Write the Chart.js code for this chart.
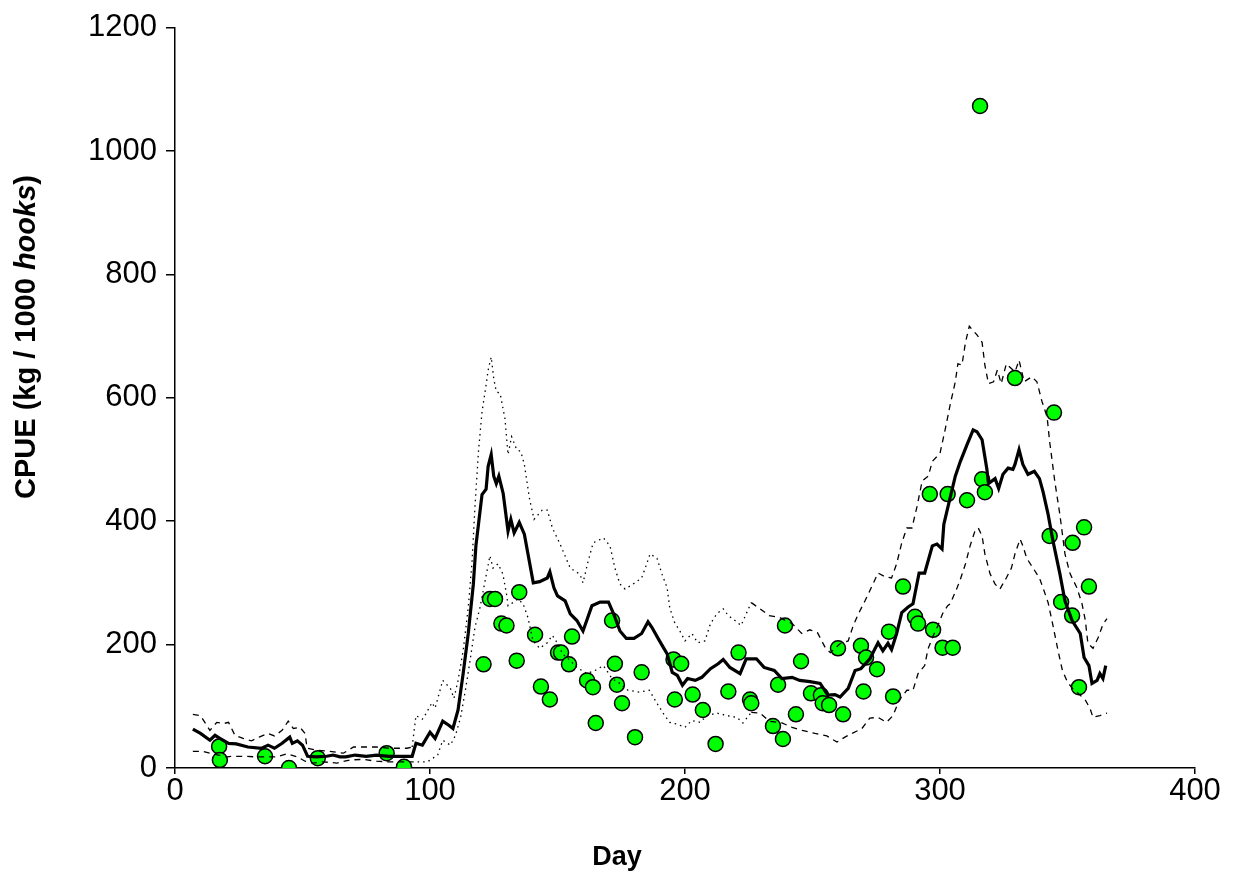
<!DOCTYPE html>
<html>
<head>
<meta charset="utf-8">
<script src="https://cdn.jsdelivr.net/npm/chart.js@4"></script>
<style>
body { margin: 0; background: #fff; }
#wrap { width: 1240px; height: 881px; }
</style>
</head>
<body>
<div id="wrap"><canvas id="myChart"></canvas></div>
<script>
// running mean CPUE
var meanDay = [7, 10, 13.7, 15.7, 17.6, 21, 24, 28.6, 34, 36.5,
    39, 42, 45, 46, 48, 50, 52, 55.5, 59.5, 62,
    64.7, 67, 70.6, 75, 79, 84, 88, 93, 94.5, 97,
    100, 102, 105, 107.5, 109, 111, 113, 115, 117, 118,
    120.4, 122, 122.8, 124, 125, 126, 127, 128.7, 130.6, 131.7,
    133, 135, 137, 140.5, 143, 146, 147, 148.6, 150, 153,
    155, 157.6, 160, 163.5, 166.7, 170, 172, 174.5, 177, 180,
    183, 185.5, 187, 190, 193, 195, 197, 199, 201, 204,
    206.6, 210, 213, 215, 217.6, 221.6, 224, 228, 231, 235,
    238, 242, 245, 249, 253, 256, 258.8, 260.8, 264, 266.7,
    269, 272.5, 275.7, 277.6, 279.6, 281, 283, 285, 287.5, 289.4,
    291.8, 294, 297, 298.8, 300.8, 301.5, 303, 306, 308, 310.6,
    313, 314.5, 316.5, 318.4, 319, 321.6, 323, 324.7, 326.7, 328.6,
    329.4, 331, 332.5, 334.5, 337, 339, 340.4, 342.4, 344.3, 347,
    349, 351.8, 355, 356.5, 358.4, 359.6, 361.6, 362.7, 363.9, 365];
var meanCpue = [63, 56, 45, 53, 48, 40, 39, 34, 32, 37,
    32, 40, 50, 40, 44, 37, 19, 18, 19, 21,
    18, 18, 21, 19, 21, 19, 19, 19, 40, 37,
    58, 48, 76, 69, 64, 94, 153, 218, 298, 360,
    443, 452, 489, 508, 473, 461, 473, 445, 384, 403,
    381, 398, 379, 300, 302, 308, 318, 292, 279, 271,
    250, 239, 222, 263, 269, 269, 250, 222, 210, 210,
    218, 237, 228, 206, 185, 155, 150, 134, 145, 142,
    147, 161, 169, 176, 163, 153, 177, 177, 163, 158,
    145, 147, 142, 140, 137, 118, 119, 115, 129, 158,
    161, 177, 203, 190, 202, 192, 218, 252, 261, 266,
    316, 316, 360, 363, 355, 395, 421, 473, 497, 524,
    548, 545, 532, 484, 461, 469, 453, 476, 486, 484,
    492, 516, 492, 476, 481, 469, 448, 411, 368, 315,
    271, 239, 218, 179, 166, 137, 142, 153, 145, 166];

// upper bound
var upperDay = [7, 10, 13.7, 16.4, 19, 21, 23.5, 26.7, 30, 33,
    36.5, 39, 42, 44.4, 46.4, 49, 51, 51.8, 55.5, 60.8,
    66, 70, 73.7, 79, 84, 91, 93, 94.5, 97, 98,
    100.8, 102, 105, 108, 109.4, 111, 113, 115, 116.5, 117.6,
    119, 120.4, 122, 122.8, 124, 125, 126, 127.5, 129.4, 130.6,
    132, 134, 135.6, 137, 139, 140.8, 144, 146, 148, 151,
    155, 158.8, 160, 162, 164, 168, 170.6, 172.5, 174.5, 176.5,
    179.6, 183, 185, 186.3, 189, 191, 193, 194, 196, 198,
    200, 202.7, 205, 207.8, 210, 212.5, 215, 217, 219.6, 222,
    224, 226, 229.4, 233, 237, 242, 245.8, 249, 252, 255,
    257, 261, 264, 266, 268, 270.6, 273.7, 275.7, 278.4, 281,
    283, 285, 287, 289, 291, 293, 295.4, 297, 300, 302,
    304, 306, 307, 308.6, 310, 311.5, 314.5, 316.5, 317.6, 319,
    321, 322.5, 324, 326, 329.4, 331, 333, 336, 338, 340,
    342, 343, 345, 347, 349, 351, 353.7, 355.7, 357, 358,
    360, 362, 364, 365.5];
var upperCpue = [87, 85, 61, 74, 72, 74, 53, 48, 44, 50,
    56, 52, 61, 76, 64, 66, 56, 32, 29, 27,
    24, 34, 34, 34, 32, 32, 34, 85, 79, 85,
    106, 97, 142, 129, 113, 142, 190, 260, 335, 421,
    513, 577, 621, 645, 666, 631, 610, 607, 566, 508,
    537, 516, 513, 492, 437, 403, 418, 418, 389, 363,
    324, 314, 300, 335, 365, 373, 360, 324, 298, 290,
    298, 308, 331, 347, 340, 314, 292, 260, 235, 222,
    206, 218, 203, 206, 234, 250, 258, 247, 239, 231,
    250, 268, 258, 247, 244, 234, 218, 224, 219, 195,
    187, 202, 206, 231, 250, 271, 298, 316, 310, 308,
    331, 365, 389, 389, 424, 465, 473, 497, 510, 548,
    589, 626, 655, 653, 690, 716, 702, 690, 653, 623,
    626, 645, 623, 655, 642, 661, 626, 634, 626, 594,
    569, 529, 465, 411, 347, 315, 292, 266, 239, 202,
    194, 211, 234, 242];

// lower bound
var lowerDay = [7, 11, 13.7, 17, 20.4, 22.7, 26.7, 32, 37, 40,
    44, 48, 51, 54, 58, 63.5, 68.6, 73.7, 79, 84,
    91, 93, 99, 103, 105, 108, 110, 112, 114, 115.7,
    117.6, 119.6, 121.6, 123.5, 124.7, 126.7, 128.6, 130, 130.6, 132.5,
    134.5, 136.5, 138.4, 140.4, 143, 146, 148, 150, 152, 155,
    157.6, 161.5, 164.7, 168, 171.4, 174.5, 177.6, 182, 186, 189,
    191.4, 194, 197, 200, 202.7, 206, 208.6, 212.5, 216.5, 220.4,
    222.7, 226, 229.4, 233, 238, 242, 246, 251, 255.6, 259.6,
    262.7, 265.5, 269.4, 272.5, 275.7, 279, 281.6, 284, 287, 289.4,
    291.4, 294, 295.3, 297.3, 299.2, 301, 303, 304, 306.7, 308,
    310, 311.8, 313.7, 315, 316.5, 317.6, 319.6, 321.6, 323.5, 326,
    328, 329.4, 331.4, 332.5, 334, 336.5, 339, 340.4, 342.4, 344.3,
    346.3, 348, 350, 352, 355, 357, 358.8, 360, 362.7, 365.5];
var lowerCpue = [27, 27, 24, 21, 18, 19, 19, 18, 18, 18,
    23, 18, 11, 8, 10, 8, 13, 14, 11, 10,
    10, 10, 10, 21, 45, 37, 53, 82, 129, 174,
    227, 260, 303, 344, 324, 331, 314, 282, 263, 268,
    274, 266, 244, 206, 194, 203, 215, 202, 185, 174,
    163, 153, 158, 166, 145, 137, 126, 123, 126, 105,
    89, 74, 71, 66, 77, 74, 85, 89, 85, 82,
    73, 90, 89, 76, 73, 66, 61, 56, 52, 42,
    50, 56, 64, 81, 82, 74, 85, 110, 126, 126,
    153, 166, 193, 214, 231, 250, 263, 266, 292, 306,
    331, 360, 384, 389, 376, 347, 315, 298, 290, 308,
    324, 347, 371, 360, 340, 324, 308, 292, 268, 231,
    190, 158, 139, 129, 118, 110, 97, 82, 85, 89];

// observed catch rates
var catchDay = [17.3, 17.6, 35.3, 44.7, 56, 83, 89.8, 121, 123.5, 125.5,
    128, 130, 134, 135, 141.2, 143.5, 147, 150.2, 151.4, 154.5,
    155.7, 161.6, 163.9, 165, 171.4, 172.5, 173.3, 175.3, 180.4, 183,
    195.5, 196, 198.5, 203, 207, 212, 217, 221, 225.5, 226,
    234.5, 236.5, 238.4, 239.2, 243.5, 245.5, 249.4, 253.3, 254, 256.5,
    260, 262, 269, 271, 270, 275.3, 280, 281.6, 285.5, 290.2,
    291.4, 296, 297.3, 301, 305, 303, 310.6, 316.5, 317.6, 315.7,
    329.4, 344.7, 343, 347.5, 352, 351.8, 356.5, 354.5, 358.4];
var catchCpue = [35, 13, 19, 0, 16, 24, 2, 168, 274, 274,
    234, 231, 174, 285, 216, 132, 111, 187, 187, 168,
    213, 142, 131, 73, 239, 169, 135, 105, 50, 155,
    176, 111, 169, 119, 94, 39, 124, 187, 111, 105,
    68, 135, 47, 231, 87, 173, 121, 118, 105, 102,
    194, 87, 198, 179, 124, 160, 221, 116, 294, 245,
    234, 444, 224, 195, 195, 444, 434, 468, 447, 1073,
    632, 576, 376, 269, 365, 247, 390, 131, 294];

var xTicks = [0, 100, 200, 300, 400];
var yTicks = [0, 200, 400, 600, 800, 1000, 1200];

var fontFamily = '"Liberation Sans", Arial, sans-serif';
Chart.defaults.font.family = fontFamily;
Chart.defaults.color = '#000';

function pts(xs, ys) {
    return xs.map(function (x, i) { return { x: x, y: ys[i] }; });
}

// bounds are dotted in spring, dashed elsewhere
function boundDash(ctx) {
    var x = ctx.p0.parsed.x;
    return (x >= 93 && x < 226) ? [1.5, 4] : [6, 5];
}

var axisTitles = {
    id: 'axisTitles',
    afterDraw: function (chart) {
        var c = chart.ctx;
        c.save();
        c.fillStyle = '#000';
        c.textBaseline = 'middle';
        c.textAlign = 'center';
        c.font = 'bold 27px ' + fontFamily;
        c.fillText('Day', 617, 858);

        var parts = [['bold', 'CPUE (kg / 1000 '], ['italic bold', 'hooks'], ['bold', ')']];
        c.translate(27, 337);
        c.rotate(-Math.PI / 2);
        c.textAlign = 'left';
        var total = 0;
        parts.forEach(function (p) {
            c.font = p[0] + ' 29px ' + fontFamily;
            total += c.measureText(p[1]).width;
        });
        var x = -total / 2;
        parts.forEach(function (p) {
            c.font = p[0] + ' 29px ' + fontFamily;
            c.fillText(p[1], x, 0);
            x += c.measureText(p[1]).width;
        });
        c.restore();
    }
};

function plain(v) { return String(v); }

var ctx = document.getElementById('myChart').getContext('2d');
var myChart = new Chart(ctx, {
    type: 'scatter',
    data: {
        datasets: [{
            label: 'Mean',
            data: pts(meanDay, meanCpue),
            showLine: true,
            borderColor: '#000',
            borderWidth: 3.2,
            pointRadius: 0,
            tension: 0,
            order: 1
        },
        {
            label: 'Upper',
            data: pts(upperDay, upperCpue),
            showLine: true,
            borderColor: '#000',
            borderWidth: 1.3,
            pointRadius: 0,
            segment: { borderDash: boundDash },
            order: 2
        },
        {
            label: 'Lower',
            data: pts(lowerDay, lowerCpue),
            showLine: true,
            borderColor: '#000',
            borderWidth: 1.3,
            pointRadius: 0,
            segment: { borderDash: boundDash },
            order: 3
        },
        {
            label: 'CPUE',
            data: pts(catchDay, catchCpue),
            showLine: false,
            backgroundColor: '#00ff00',
            borderColor: '#000',
            borderWidth: 1.5,
            pointRadius: 7.5,
            order: 4
        }]
    },
    options: {
        responsive: true,
        maintainAspectRatio: false,
        animation: false,
        layout: { padding: { left: 0, top: 24, right: 45, bottom: 0 } },
        plugins: {
            legend: { display: false },
            tooltip: { enabled: false }
        },
        scales: {
            x: {
                type: 'linear',
                min: 0,
                max: 400,
                afterFit: function (s) { s.height = 113; },
                afterBuildTicks: function (s) { s.ticks = xTicks.map(function (v) { return { value: v }; }); },
                grid: { drawOnChartArea: false, drawTicks: true, tickLength: 6, color: '#000', lineWidth: 1.5 },
                border: { display: true, color: '#000', width: 1.5 },
                ticks: { font: { size: 31 }, color: '#000', padding: -1, maxRotation: 0, callback: plain }
            },
            y: {
                type: 'linear',
                min: 0,
                max: 1200,
                afterFit: function (s) { s.width = 175; },
                afterBuildTicks: function (s) { s.ticks = yTicks.map(function (v) { return { value: v }; }); },
                grid: { drawOnChartArea: false, drawTicks: true, tickLength: 9, color: '#000', lineWidth: 1.5 },
                border: { display: true, color: '#000', width: 1.5 },
                ticks: { font: { size: 31 }, color: '#000', padding: 9, callback: plain }
            }
        }
    },
    plugins: [axisTitles]
});
</script>
</body>
</html>
